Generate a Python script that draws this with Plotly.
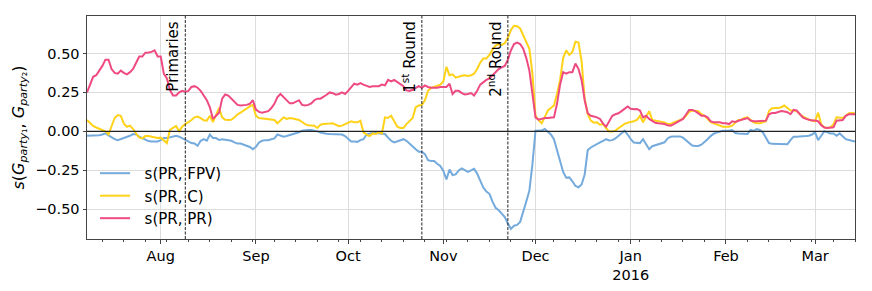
import pandas as pd
import plotly.graph_objects as go

START_DATE = "2015-07-08"

pr_pr = [
    .25, .295, .35, .36, .39, .42, .46, .46, .40, .375,
    .37, .39, .375, .366, .38, .40, .44, .48, .48, .505,
    .506, .51, .52, .48, .48, .37, .34, .265, .23, .23,
    .25, .26, .255, .26, .285, .29, .28, .26, .23, .20,
    .155, .08, .10, .12, .21, .237, .23, .21, .19, .17,
    .166, .168, .17, .177, .20, .14, .125, .12, .123, .13,
    .15, .177, .22, .24, .22, .20, .18, .18, .19, .20,
    .17, .166, .17, .18, .20, .21, .21, .22, .235, .25,
    .245, .235, .24, .25, .24, .26, .28, .306, .30, .31,
    .30, .29, .285, .29, .29, .29, .30, .295, .33, .32,
    .33, .317, .306, .29, .263, .26, .267, .28, .29, .28,
    .295, .285, .28, .28, .28, .285, .285, .285, .306, .24,
    .26, .26, .246, .237, .24, .246, .23, .26, .30, .317,
    .33, .34, .36, .38, .40, .41, .42, .46, .52, .56,
    .57, .56, .53, .47, .39, .24, .09, .075, .08, .086,
    .086, .086, .09, .177, .30, .38, .37, .38, .38, .435,
    .40, .33, .20, .116, .10, .095, .09, .08, .05, .03,
    .07, .10, .11, .116, .13, .144, .16, .145, .142, .144,
    .134, .09, .10, .08, .065, .055, .052, .05, .047, .04,
    .037, .047, .058, .065, .08, .108, .138, .138, .13, .116,
    .10, .10, .09, .065, .058, .058, .058, .052, .052, .047,
    .065, .06, .07, .075, .08, .086, .07, .065, .065, .067,
    .069, .069, .11, .118, .118, .125, .13, .128, .123, .11,
    .138, .134, .11, .09, .08, .075, .07, .07, .065, .04,
    .025, .022, .022, .026, .069, .073, .073, .10, .11, .11, .11,
]

pr_c = [
    .073, .055, .035, .025, .018, .01, .0, -.02, .03, .086,
    .105, .10, .05, .03, .037, .015, -.015, -.04, -.045, -.03,
    -.03, -.036, -.04, -.043, -.04, -.06, -.075, .01, .02, .035,
    .0, .03, .047, .058, .073, .09, .095, .085, .072, .069,
    .10, .06, .10, .15, .09, .075, .073, .075, .09, .11,
    .12, .135, .144, .16, .17, .10, .086, .084, .082, .08,
    .078, .073, .052, .073, .09, .08, .086, .083, .078, .073,
    .06, .047, .04, .037, .037, .022, .043, .047, .047, .05,
    .052, .045, .034, .037, .045, .055, .065, .058, .058, .069,
    -.006, -.02, -.03, -.013, -.017, -.006, -.013, .09, .086, .10,
    .069, .03, .022, .022, .047, .065, .086, .155, .166, .17,
    .20, .26, .28, .285, .29, .30, .32, .414, .36, .366,
    .345, .353, .357, .36, .355, .36, .37, .40, .44, .468,
    .468, .49, .525, .55, .56, .555, .565, .60, .65, .677,
    .675, .66, .62, .575, .53, .37, .10, .073, .052, .09,
    .134, .15, .166, .24, .33, .47, .52, .49, .51, .575,
    .57, .45, .21, .11, .069, .056, .058, .043, .047, .02,
    .0, .0, .005, .02, .035, .048, .055, .058, .065, .073,
    .10, .058, .09, .13, .073, .069, .065, .065, .058, .047,
    .047, .058, .065, .073, .08, .10, .125, .134, .134, .13,
    .11, .10, .08, .06, .052, .043, .035, .03, .03, .03,
    .037, .055, .073, .075, .086, .09, .073, .058, .052, .052,
    .058, .065, .13, .148, .15, .15, .155, .166, .15, .134,
    .134, .13, .11, .095, .086, .075, .07, .065, .12, .047,
    .026, .022, .026, .047, .09, .086, .086, .10, .116, .118, .116,
]

pr_fpv = [
    -.028, -.028, -.028, -.028, -.025, -.02, -.013, -.025, -.038, -.05,
    -.056, -.05, -.043, -.039, -.028, -.017, -.02, -.034, -.043, -.056,
    -.062, -.065, -.065, -.065, -.056, -.043, -.043, -.039, -.034, -.028,
    -.034, -.043, -.056, -.065, -.075, -.078, -.093, -.06, -.05, -.06,
    -.02, -.043,
    -.043, -.055, -.05, -.053, -.056, -.06, -.07, -.078, -.078, -.086,
    -.09, -.1, -.114, -.099, -.071, -.06, -.056, -.056, -.05, -.045,
    -.02, -.025, -.034, -.03, -.025, -.02, -.013, -.006, .004, .009,
    .009, .009, .006, .0, -.008, -.013, -.015, -.017, -.017, -.017,
    -.017, -.02,
    -.03, -.05, -.065, -.065, -.067, -.056, -.05, -.02, -.013, -.008,
    -.01, -.013, -.013, -.017, -.04, -.06, -.071, -.065, -.06, -.05,
    -.06, -.08, -.1, -.115, -.13, -.13, -.146, -.185, -.19, -.19,
    -.207, -.222, -.254, -.308, -.244, -.28, -.276, -.25, -.237, -.25,
    -.259, -.25, -.24,
    -.27, -.32, -.36, -.385, -.4, -.45, -.49, -.505, -.525, -.55,
    -.59, -.625, -.605, -.60, -.58, -.52, -.45, -.38, -.21, .004,
    .005, .005, .015, .0, -.02, -.05, -.125, -.19, -.26, -.297,
    -.295, -.32, -.35, -.358, -.34, -.276, -.12, -.103, -.093, -.086,
    -.071, -.06,
    -.05, -.058, -.056, -.045, -.03, -.01, .004, -.02, -.05, -.071,
    -.072, -.075, -.05, -.082, -.114, -.095, -.088, -.08, -.078, -.07,
    -.045, -.034, -.033, -.032, -.032, -.04, -.056, -.078, -.09, -.093,
    -.093, -.085, -.07, -.05, -.03, -.015, -.008, .0, .004, .004,
    .004, .009,
    -.01, -.013, -.013, -.013, -.017, .009, .004, .015, .009, -.006,
    -.043, -.075, -.08, -.08, -.078, -.078, -.08, -.082, -.056, -.034,
    -.034, -.034, -.032, -.03, -.028, -.02, -.006, -.056, -.028, .0,
    -.006, -.013, -.013, -.028, -.013, -.034, -.05, -.055, -.058, -.065,
]

series_names = ["s(PR, FPV)", "s(PR, C)", "s(PR, PR)"]
series_colors = ["#74aadc", "#ffd21a", "#ee4a81"]

event_dates = ["2015-08-09", "2015-10-25", "2015-11-22"]
event_labels = ["Primaries", "1<sup>st</sup> Round", "2<sup>nd</sup> Round"]

month_ticks = ["2015-08-01", "2015-09-01", "2015-10-01", "2015-11-01",
               "2015-12-01", "2016-01-01", "2016-02-01", "2016-03-01"]
month_labels = ["Aug", "Sep", "Oct", "Nov", "Dec", "Jan<br>2016", "Feb", "Mar"]

y_ticks = [-0.5, -0.25, 0.0, 0.25, 0.5]

FONT = "DejaVu Sans"

fig = go.Figure()
for name, vals, col in zip(series_names, [pr_fpv, pr_c, pr_pr], series_colors):
    dates = pd.date_range(START_DATE, periods=len(vals), freq="D")
    fig.add_trace(go.Scatter(x=dates, y=vals, mode="lines",
                             name="\u00a0\u00a0" + name,
                             line=dict(color=col, width=2)))

for d, lab in zip(event_dates, event_labels):
    fig.add_shape(type="line", xref="x", yref="paper", x0=d, x1=d, y0=0, y1=1,
                  line=dict(color="#222", width=1, dash="3px,1.5px"))
    fig.add_annotation(x=d, xref="x", y=0.985, yref="paper", text=lab,
                       textangle=-90, showarrow=False, xanchor="right",
                       yanchor="top", xshift=-1,
                       font=dict(family=FONT, size=15, color="black"))

fig.add_shape(type="line", xref="paper", yref="y", x0=0, x1=1, y0=0, y1=0,
              line=dict(color="#222", width=1.2))

# the page body adds an 8px offset, so the figure is 864x283 with shifted margins
fig.update_layout(
    width=864, height=283,
    margin=dict(l=79, r=17, t=8, b=52, autoexpand=False),
    paper_bgcolor="white", plot_bgcolor="white",
    font=dict(family=FONT, size=14.5, color="black"),
    showlegend=True,
    legend=dict(x=0.0105, y=0.368, xanchor="left", yanchor="top",
                bgcolor="rgba(0,0,0,0)", font=dict(size=15),
                itemwidth=30, tracegroupgap=0),
    xaxis=dict(
        range=["2015-07-08", "2016-03-14"],
        tickvals=month_ticks, ticktext=month_labels,
        showgrid=True, gridcolor="#dcdcdc", gridwidth=1,
        showline=True, linecolor="#444", linewidth=1, mirror=True,
        ticks="outside", ticklen=3.5, tickcolor="#444",
        minor=dict(ticks="outside", ticklen=2, tickcolor="#444",
                   tick0="2015-07-13", dtick=7 * 24 * 3600 * 1000,
                   showgrid=False),
        zeroline=False, automargin=False,
    ),
    yaxis=dict(
        range=[-0.69, 0.74],
        tickvals=y_ticks, tickformat=".2f",
        showgrid=True, gridcolor="#dcdcdc", gridwidth=1,
        showline=True, linecolor="#444", linewidth=1, mirror=True,
        ticks="outside", ticklen=3.5, tickcolor="#444",
        zeroline=False, automargin=False,
        title=dict(
            text="<i>s</i>(<i>G</i><sub><i>party</i>\u2081</sub>, <i>G</i><sub><i>party</i>\u2082</sub>)",
            font=dict(size=16), standoff=6),
    ),
)

fig.write_html("out.html")
